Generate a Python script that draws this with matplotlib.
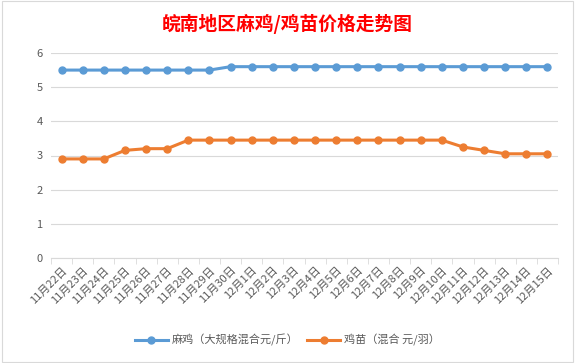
import numpy as np
import matplotlib
matplotlib.use("Agg")
import matplotlib.pyplot as plt
from matplotlib.ticker import FixedLocator

plt.rcParams['font.family'] = ['Noto Sans CJK SC', 'DejaVu Sans']

dates = ["11月22日", "11月23日", "11月24日", "11月25日", "11月26日", "11月27日",
         "11月28日", "11月29日", "11月30日", "12月1日", "12月2日", "12月3日",
         "12月4日", "12月5日", "12月6日", "12月7日", "12月8日", "12月9日",
         "12月10日", "12月11日", "12月12日", "12月13日", "12月14日", "12月15日"]
mage = [5.5, 5.5, 5.5, 5.5, 5.5, 5.5, 5.5, 5.5, 5.6, 5.6, 5.6, 5.6,
        5.6, 5.6, 5.6, 5.6, 5.6, 5.6, 5.6, 5.6, 5.6, 5.6, 5.6, 5.6]
chick = [2.9, 2.9, 2.9, 3.15, 3.2, 3.2, 3.45, 3.45, 3.45, 3.45, 3.45, 3.45,
         3.45, 3.45, 3.45, 3.45, 3.45, 3.45, 3.45, 3.25, 3.15, 3.05, 3.05, 3.05]
labels = ["麻鸡（大规格混合元/斤）", "鸡苗（混合 元/羽）"]

fig = plt.figure(figsize=(5.75, 3.63), dpi=100)
ax = fig.add_axes([51/575, 1 - 258/363, 507/575, 205/363])

x = np.arange(len(dates))
ax.plot(x, mage, color='#5B9BD5', lw=2.2, marker='o', ms=5, label=labels[0])
ax.plot(x, chick, color='#ED7D31', lw=2.2, marker='o', ms=5, label=labels[1])

ax.set_xlim(-0.5, len(dates) - 0.5)
ax.set_ylim(0, 6)
ax.set_yticks(range(0, 7))
ax.grid(axis='y', color='#D9D9D9', lw=0.8)
ax.set_axisbelow(True)
for s in ['top', 'right', 'left']:
    ax.spines[s].set_visible(False)
ax.spines['bottom'].set_color('#D9D9D9')
ax.tick_params(axis='y', length=0, labelsize=8, labelcolor='#595959', pad=6)

ax.set_xticks(x)
ax.set_xticklabels(dates, rotation=45, ha='right', rotation_mode='anchor',
                   fontsize=8, color='#595959')
ax.tick_params(axis='x', which='major', length=0, pad=5)
ax.xaxis.set_minor_locator(FixedLocator(np.arange(-0.5, len(dates), 1)))
ax.tick_params(axis='x', which='minor', length=4, color='#D9D9D9')

fig.suptitle("皖南地区麻鸡/鸡苗价格走势图", x=287/575, y=1 - 24/363, va='center',
             fontsize=13.5, fontweight='bold', color='#FF0000')

fig.legend(loc='center', bbox_to_anchor=(287/575, 1 - 340/363), ncol=2,
           frameon=False, fontsize=8, labelcolor='#595959',
           handlelength=3, columnspacing=0.8, handletextpad=0.3)

fig.add_artist(plt.Rectangle((0.003, 0.003), 0.994, 0.994, transform=fig.transFigure,
                             fill=False, edgecolor='#D9D9D9', lw=0.8))

fig.savefig("out.png", dpi=100)
